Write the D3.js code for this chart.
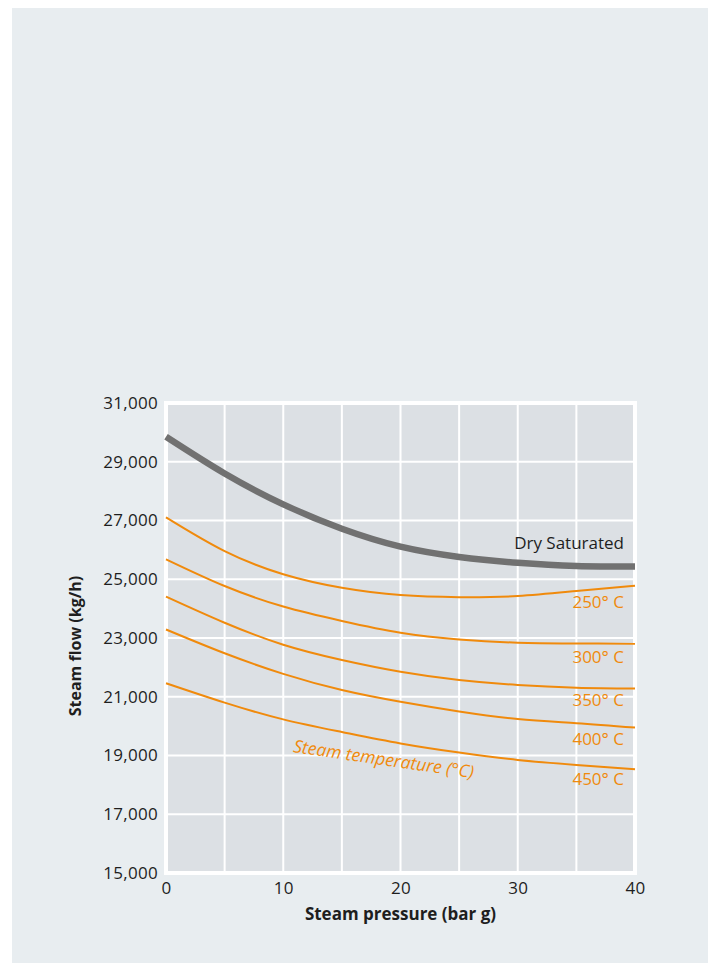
<!DOCTYPE html>
<html>
<head>
<meta charset="utf-8">
<script src="https://cdn.jsdelivr.net/npm/d3@7"></script>
<style>
  body { margin: 0; background: #ffffff; }
  text { font-family: "Open Sans", "Noto Sans", sans-serif; }
</style>
</head>
<body>
<script>
// pressures (bar g)
const pressures = [0, 5, 10, 15, 20, 25, 30, 35, 40];

// steam flow (kg/h) for each curve
const drySaturated = [29850, 28600, 27550, 26720, 26110, 25760, 25560, 25450, 25430];
const temp250 = [27110, 25960, 25170, 24710, 24460, 24390, 24430, 24600, 24780];
const temp300 = [25680, 24770, 24070, 23580, 23180, 22950, 22840, 22815, 22800];
const temp350 = [24410, 23520, 22770, 22250, 21850, 21570, 21400, 21310, 21280];
const temp400 = [23290, 22480, 21780, 21230, 20830, 20500, 20240, 20100, 19950];
const temp450 = [21460, 20800, 20230, 19800, 19410, 19100, 18850, 18680, 18530];

const tempSeries = [temp250, temp300, temp350, temp400, temp450];
const tempLabels = ["250° C", "300° C", "350° C", "400° C", "450° C"];
// flow value (kg/h) at the baseline of each temperature label on the right
const tempLabelValues = [24020, 22150, 20690, 19360, 17980];

const yTicks = [15000, 17000, 19000, 21000, 23000, 25000, 27000, 29000, 31000];
const xTicks = [0, 10, 20, 30, 40];
const xGrid = [5, 10, 15, 20, 25, 30, 35];

const width = 712, height = 964;
const orange = "#f08a0c";
const ink = "#1e1e1e";

const svg = d3.select("body").append("svg")
  .attr("width", width)
  .attr("height", height);

// outer panel
svg.append("rect")
  .attr("x", 12).attr("y", 8)
  .attr("width", 696).attr("height", 955)
  .attr("fill", "#e8edf0");

const x = d3.scaleLinear().domain([0, 40]).range([166, 635]);
const y = d3.scaleLinear().domain([15000, 31000]).range([873, 403]);

// plot background with white frame
svg.append("rect")
  .attr("x", x(0)).attr("y", y(31000))
  .attr("width", x(40) - x(0)).attr("height", y(15000) - y(31000))
  .attr("fill", "#dce0e4")
  .attr("stroke", "#ffffff")
  .attr("stroke-width", 4);

// grid lines
svg.append("g").selectAll("line").data(xGrid).join("line")
  .attr("x1", d => x(d)).attr("x2", d => x(d))
  .attr("y1", y(15000)).attr("y2", y(31000))
  .attr("stroke", "#ffffff").attr("stroke-width", 2);

svg.append("g").selectAll("line").data(yTicks.slice(1, -1)).join("line")
  .attr("x1", x(0)).attr("x2", x(40))
  .attr("y1", d => y(d)).attr("y2", d => y(d))
  .attr("stroke", "#ffffff").attr("stroke-width", 2);

// axes (labels only, no domain or tick marks)
const yAxis = svg.append("g")
  .attr("transform", "translate(" + (x(0) - 2) + ",0)")
  .call(d3.axisLeft(y).tickValues(yTicks).tickSize(0).tickPadding(6).tickFormat(d3.format(",")));
const xAxis = svg.append("g")
  .attr("transform", "translate(0," + (y(15000) + 2) + ")")
  .call(d3.axisBottom(x).tickValues(xTicks).tickSize(0).tickPadding(7).tickFormat(d3.format("d")));

[yAxis, xAxis].forEach(function(ax) {
  ax.select(".domain").remove();
  ax.selectAll("text")
    .attr("font-family", "'Open Sans', sans-serif")
    .attr("font-size", 17)
    .attr("letter-spacing", 0.3)
    .attr("fill", ink);
});

// axis titles
svg.append("text")
  .attr("x", (x(0) + x(40)) / 2).attr("y", 920)
  .attr("text-anchor", "middle")
  .attr("font-size", 17).attr("font-weight", "bold")
  .attr("fill", ink)
  .text("Steam pressure (bar g)");

svg.append("text")
  .attr("transform", "translate(81," + ((y(15000) + y(31000)) / 2 + 8) + ") rotate(-90)")
  .attr("text-anchor", "middle")
  .attr("font-size", 16).attr("font-weight", "bold")
  .attr("fill", ink)
  .text("Steam flow (kg/h)");

const line = d3.line()
  .x((d, i) => x(pressures[i]))
  .y(d => y(d))
  .curve(d3.curveNatural);

// temperature curves
svg.append("g").selectAll("path").data(tempSeries).join("path")
  .attr("d", line)
  .attr("fill", "none")
  .attr("stroke", orange)
  .attr("stroke-width", 2);

// dry saturated curve
svg.append("path")
  .attr("d", line(drySaturated))
  .attr("fill", "none")
  .attr("stroke", "#717171")
  .attr("stroke-width", 6.5);

// curve labels
svg.append("text")
  .attr("x", x(40) - 11).attr("y", y(25000) - 30)
  .attr("text-anchor", "end")
  .attr("font-size", 17)
  .attr("fill", ink)
  .text("Dry Saturated");

svg.append("g").selectAll("text").data(tempLabels).join("text")
  .attr("x", x(40) - 11)
  .attr("y", (d, i) => y(tempLabelValues[i]))
  .attr("text-anchor", "end")
  .attr("font-size", 17)
  .attr("fill", orange)
  .text(d => d);

svg.append("text")
  .attr("transform", "translate(" + x(10.8) + "," + y(19120) + ") rotate(8.3)")
  .attr("font-size", 17.5)
  .attr("font-style", "italic")
  .attr("fill", orange)
  .text("Steam temperature (°C)");
</script>
</body>
</html>
